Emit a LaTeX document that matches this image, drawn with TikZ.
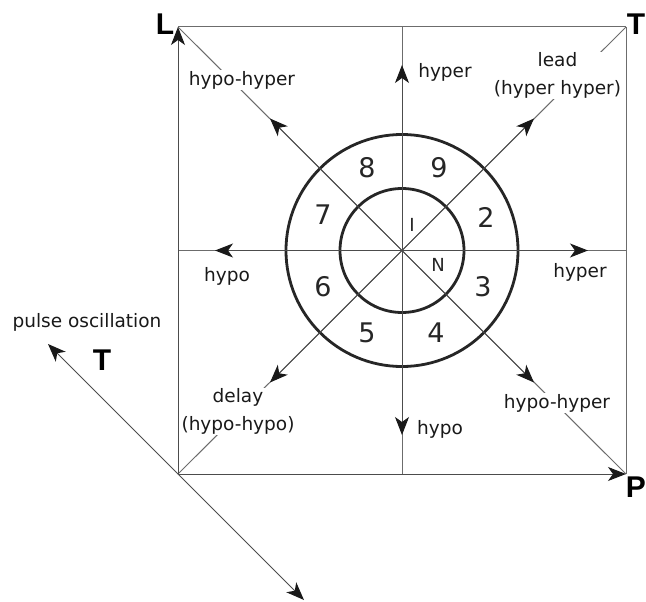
\documentclass[tikz,border=0pt]{standalone}
\usepackage{fontspec}
\setmainfont{DejaVu Sans}
\newfontfamily\capsfont{Liberation Sans}
\usetikzlibrary{arrows.meta}
\begin{document}
\begin{tikzpicture}[x=1pt,y=-1pt,
  thinline/.style={draw=gray!85!black, line width=1pt},
  ring/.style={draw=black!85, line width=2.8pt},
  arr/.style={draw=gray!60!black, line width=1pt, -{Stealth[length=18pt,width=14pt,inset=5pt,color=black!90]}},
  lbl/.style={font=\fontsize{18.5}{28}\selectfont, text=black!90, fill=white, inner sep=1pt, align=center},
  num/.style={font=\fontsize{27}{30}\selectfont, text=black!85, inner sep=0pt},
  small/.style={font=\fontsize{18}{20}\selectfont, text=black!85, inner sep=0pt},
  corner/.style={font=\capsfont\bfseries\fontsize{30}{32}\selectfont, inner sep=0pt}]
\useasboundingbox (0,0) rectangle (646,602);
% frame
\coordinate (L) at (178,27);
\coordinate (T) at (626,27);
\coordinate (P) at (626,474);
\coordinate (B) at (178,474);
\coordinate (O) at (402,250.5);
\coordinate (Nm) at (402,27);
\coordinate (Sm) at (402,474);
\coordinate (Wm) at (178,250.5);
\coordinate (Em) at (626,250.5);
\draw[thinline] (T) -- (P);
\draw[thinline] (L) -- (T);
\draw[thinline] (Nm) -- (Sm);
\draw[thinline] (Wm) -- (Em);
\draw[thinline] (L) -- (P);
\draw[thinline] (T) -- (B);
% axes with arrows
\draw[arr] (B) -- (L);
\draw[arr] (B) -- (P);
% rings
\draw[ring] (O) circle[radius=62];
\draw[ring] (O) circle[radius=116];
% arrows from centre
\coordinate (aN) at (402,65);
\coordinate (aS) at (402,435);
\coordinate (aW) at (215,250.5);
\coordinate (aE) at (588,250.5);
\coordinate (aNW) at (270,118.5);
\coordinate (aNE) at (534,118.5);
\coordinate (aSW) at (270,382.5);
\coordinate (aSE) at (534,382.5);
\foreach \t in {aN,aS,aW,aE,aNW,aNE,aSW,aSE} \draw[arr] (O) -- (\t);
% pulse oscillation axis
\coordinate (pA) at (48,344);
\coordinate (pB) at (304,600);
\draw[arr] (B) -- (pA);
\draw[arr] (B) -- (pB);
% labels
\node[lbl] (l1) at (242,80) {hypo-hyper};
\node[lbl] (l2) at (445,72) {hyper};
\node[lbl] (l3) at (557.5,75.5) {lead\\(hyper hyper)};
\node[lbl] (l4) at (227,276) {hypo};
\node[lbl] (l5) at (580,272) {hyper};
\node[lbl] (l6) at (238,411.5) {delay\\(hypo-hypo)};
\node[lbl] (l7) at (557,403) {hypo-hyper};
\node[lbl] (l8) at (440,429) {hypo};
\node[lbl] (l9) at (87,322) {pulse oscillation};
% ring numbers
\node[num] (n8) at (367,168) {8};
\node[num] (n9) at (439,168) {9};
\node[num] (n7) at (323,215) {7};
\node[num] (n2) at (486,217) {2};
\node[num] (n6) at (323,287) {6};
\node[num] (n3) at (483,287) {3};
\node[num] (n5) at (367,333) {5};
\node[num] (n4) at (436,333) {4};
\node[small] (nI) at (412,225) {I};
\node[small] (nN) at (438,265) {N};
% corner letters
\node[corner] (cL) at (165,24) {L};
\node[corner] (cT) at (636,24) {T};
\node[corner] (cP) at (636,487) {P};
\node[corner] (cT2) at (102,360) {T};
\end{tikzpicture}
\end{document}
